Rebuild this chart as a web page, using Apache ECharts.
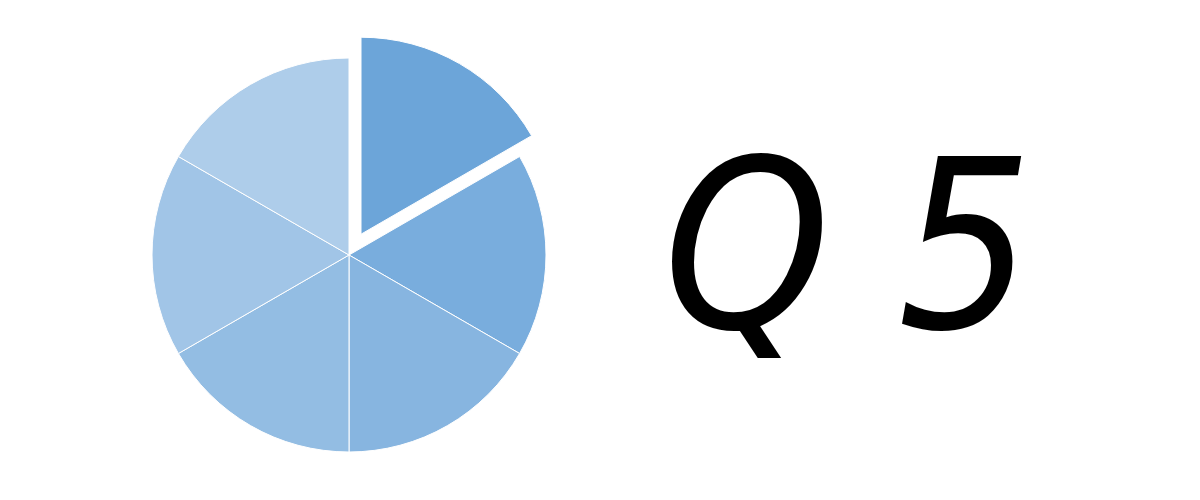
<!DOCTYPE html>
<html>
<head>
<meta charset="utf-8">
<script src="https://cdn.jsdelivr.net/npm/echarts@6/dist/echarts.min.js"></script>
<style>html,body{margin:0;padding:0;background:#fff}#c{width:1200px;height:500px}</style>
</head>
<body>
<div id="c"></div>
<script>
const categories = ['A', 'B', 'C', 'D', 'E', 'F'];
const values = [1, 1, 1, 1, 1, 1];
const sliceColors = ['#6ca5d9', '#79addd', '#87b5e0', '#93bde3', '#a1c5e7', '#aecdea'];
const explodedIndex = 0;
const titleText = 'Q 5';

const chart = echarts.init(document.getElementById('c'), null, {renderer: 'canvas'});
chart.setOption({
  animation: false,
  backgroundColor: '#ffffff',
  title: {
    text: titleText,
    left: 843,
    top: 262,
    textAlign: 'center',
    textVerticalAlign: 'middle',
    textStyle: {
      fontFamily: 'DejaVu Sans Condensed',
      fontStyle: 'italic',
      fontWeight: 'normal',
      fontSize: 236,
      color: '#000000'
    }
  },
  series: [{
    type: 'pie',
    center: [349, 255],
    radius: [0, 197],
    startAngle: 90,
    clockwise: true,
    selectedMode: 'single',
    selectedOffset: 24,
    label: {show: false},
    labelLine: {show: false},
    emphasis: {disabled: true},
    itemStyle: {borderColor: '#ffffff', borderWidth: 1},
    data: categories.map((n, i) => ({
      name: n,
      value: values[i],
      selected: i === explodedIndex,
      itemStyle: {color: sliceColors[i]}
    }))
  }]
});
</script>
</body>
</html>
